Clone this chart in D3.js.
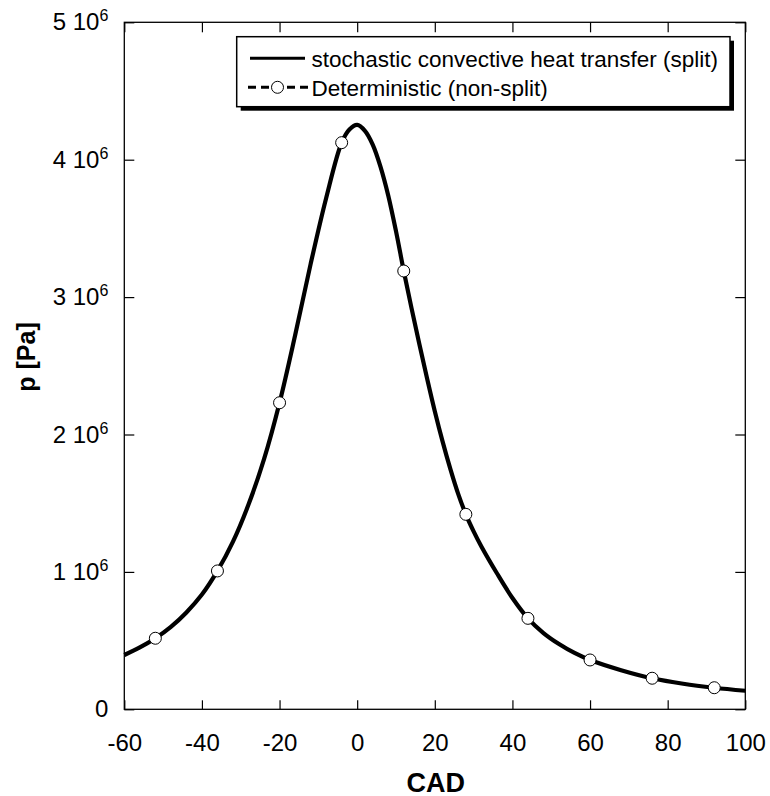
<!DOCTYPE html>
<html>
<head>
<meta charset="utf-8">
<script src="https://cdn.jsdelivr.net/npm/d3@7"></script>
<style>
  html, body { margin: 0; padding: 0; background: #fff; }
  svg { display: block; }
  text { font-family: "Liberation Sans", Arial, sans-serif; fill: #000; }
</style>
</head>
<body>
<svg id="chart" width="770" height="796"></svg>
<script>
// ---- data ----
const cadSplit = [-60, -56, -52, -48, -44, -40, -36, -32, -28, -24, -20, -16, -12, -8, -4, -2, 0, 2, 4, 6, 8, 10, 12, 14, 16, 18, 20, 22, 24, 26, 28, 30, 32, 36, 40, 44, 48, 52, 56, 60, 68, 76, 84, 92, 100];
const pSplit = [0.395e6, 0.45e6, 0.517e6, 0.60e6, 0.705e6, 0.835e6, 1.007e6, 1.22e6, 1.49e6, 1.82e6, 2.231e6, 2.72e6, 3.24e6, 3.72e6, 4.124e6, 4.22e6, 4.253e6, 4.21e6, 4.11e6, 3.95e6, 3.74e6, 3.48e6, 3.19e6, 2.92e6, 2.66e6, 2.41e6, 2.17e6, 1.95e6, 1.75e6, 1.57e6, 1.419e6, 1.295e6, 1.185e6, 0.99e6, 0.81e6, 0.662e6, 0.555e6, 0.475e6, 0.41e6, 0.359e6, 0.285e6, 0.226e6, 0.186e6, 0.157e6, 0.135e6];
const cadDet = [-52, -36, -20, -4, 12, 28, 44, 60, 76, 92];
const pDet = [0.517e6, 1.007e6, 2.231e6, 4.124e6, 3.19e6, 1.419e6, 0.662e6, 0.359e6, 0.226e6, 0.157e6];
const xTicks = [-60, -40, -20, 0, 20, 40, 60, 80, 100];
const yTicks = [0, 1e6, 2e6, 3e6, 4e6, 5e6];
const yTickMantissa = ["0", "1", "2", "3", "4", "5"];
const legendLabels = ["stochastic convective heat transfer (split)", "Deterministic (non-split)"];
const xLabel = "CAD";
const yLabel = "p [Pa]";

// ---- layout ----
const svg = d3.select("#chart");
const L = 124.3, T = 22.3, W = 621, H = 687;
const x = d3.scaleLinear().domain([-60, 100]).range([L, L + W]);
const y = d3.scaleLinear().domain([0, 5e6]).range([T + H, T]);

// axes (ticks inward on all sides)
const gx = svg.append("g").attr("transform", `translate(0,${T + H})`)
  .call(d3.axisBottom(x).tickValues(xTicks).tickSize(-9).tickPadding(25).tickFormat(d => String(d)));
gx.selectAll("text").attr("font-size", 24).style("font-family", "Liberation Sans, Arial, sans-serif");

const gxt = svg.append("g").attr("transform", `translate(0,${T})`)
  .call(d3.axisTop(x).tickValues(xTicks).tickSize(-10).tickFormat(""));

const gy = svg.append("g").attr("transform", `translate(${L},0)`)
  .call(d3.axisLeft(y).tickValues(yTicks).tickSize(-10).tickPadding(16));
gy.selectAll("text").attr("font-size", 24).style("font-family", "Liberation Sans, Arial, sans-serif")
  .each(function(d, i) {
    const t = d3.select(this);
    t.text(null);
    if (d === 0) { t.text(yTickMantissa[i]); return; }
    t.append("tspan").text(yTickMantissa[i] + " 10");
    t.append("tspan").attr("font-size", 16).attr("dy", -9).text("6");
  });

const gyr = svg.append("g").attr("transform", `translate(${L + W},0)`)
  .call(d3.axisRight(y).tickValues(yTicks).tickSize(-10).tickFormat(""));

[gx, gxt, gy, gyr].forEach(g => {
  g.select(".domain").remove();
  g.selectAll(".tick line").attr("stroke", "#000").attr("stroke-width", 1.2);
});

// frame
svg.append("rect").attr("x", L).attr("y", T).attr("width", W).attr("height", H)
  .attr("fill", "none").attr("stroke", "#000").attr("stroke-width", 1.3);

// curve
const line = d3.line().x(d => x(d[0])).y(d => y(d[1])).curve(d3.curveCatmullRom.alpha(0.5));
const splitData = cadSplit.map((c, i) => [c, pSplit[i]]);
svg.append("path").datum(splitData).attr("d", line)
  .attr("fill", "none").attr("stroke", "#000").attr("stroke-width", 4.2).attr("stroke-linejoin", "round");

// deterministic markers
svg.append("g").selectAll("circle").data(cadDet.map((c, i) => [c, pDet[i]])).join("circle")
  .attr("cx", d => x(d[0])).attr("cy", d => y(d[1])).attr("r", 6)
  .attr("fill", "#fff").attr("stroke", "#000").attr("stroke-width", 1);

// axis labels
svg.append("text").attr("x", x(20) + 1).attr("y", 791.5).attr("text-anchor", "middle")
  .attr("font-size", 27).attr("font-weight", "bold").text(xLabel);
svg.append("text").attr("transform", "translate(35,357) rotate(-90)").attr("text-anchor", "middle")
  .attr("font-size", 25).attr("font-weight", "bold").text(yLabel);

// legend
const lg = svg.append("g");
const bx = 236.7, by = 36.7, bw = 493.3, bh = 70;
lg.append("rect").attr("x", bx + 4).attr("y", by + 4).attr("width", bw).attr("height", bh).attr("fill", "#000");
lg.append("rect").attr("x", bx).attr("y", by).attr("width", bw).attr("height", bh)
  .attr("fill", "#fff").attr("stroke", "#000").attr("stroke-width", 1.5);
lg.append("line").attr("x1", 250).attr("x2", 305).attr("y1", 58.3).attr("y2", 58.3)
  .attr("stroke", "#000").attr("stroke-width", 3);
lg.append("line").attr("x1", 248).attr("x2", 308).attr("y1", 87.3).attr("y2", 87.3)
  .attr("stroke", "#000").attr("stroke-width", 3).attr("stroke-dasharray", "8,5");
lg.append("circle").attr("cx", 277.5).attr("cy", 87.3).attr("r", 6)
  .attr("fill", "#fff").attr("stroke", "#000").attr("stroke-width", 1);
lg.selectAll("text.lab").data(legendLabels).join("text").attr("class", "lab")
  .attr("x", 311.5).attr("y", (d, i) => 66.5 + i * 29).attr("font-size", 22.5).text(d => d);
</script>
</body>
</html>
